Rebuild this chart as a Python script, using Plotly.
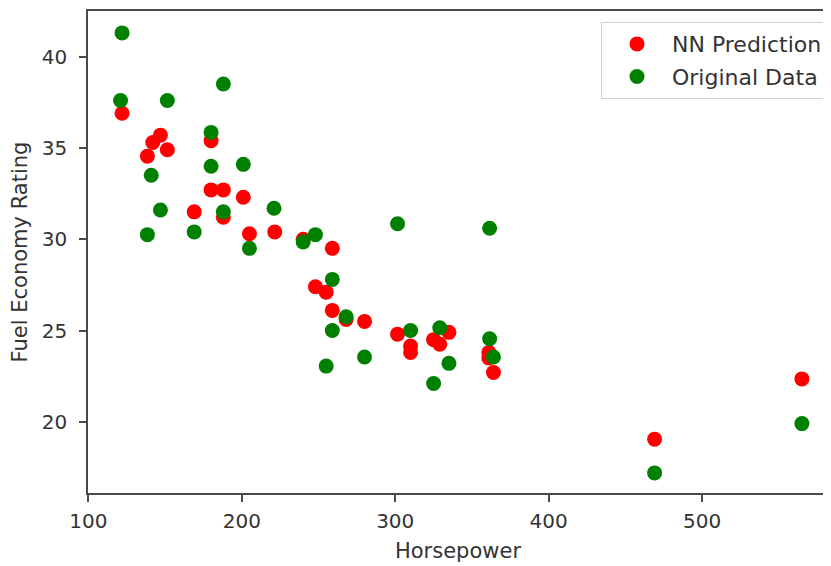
import plotly.graph_objects as go

# NN Prediction (red)
pred_hp = [122, 147, 142, 138.5, 151.5, 180, 180, 188, 201, 169, 188, 205, 221.5, 240, 259,
           248, 255, 259, 268, 280, 301.5, 310, 310, 325, 329, 335, 361, 361, 364, 469, 565]
pred_mpg = [36.9, 35.7, 35.3, 34.55, 34.9, 35.4, 32.7, 32.7, 32.3, 31.5, 31.2, 30.3, 30.4, 30.0, 29.5,
            27.4, 27.1, 26.1, 25.6, 25.5, 24.8, 24.15, 23.8, 24.5, 24.25, 24.9, 23.8, 23.5, 22.7, 19.05, 22.35]

# Original Data (green)
orig_hp = [122, 121, 151.5, 188, 180, 141, 180, 201, 147, 188, 221, 138.5, 169, 205, 240, 248,
           301.5, 361.5, 259, 268, 259, 255, 280, 310, 329, 335, 325, 361.5, 364, 469, 565]
orig_mpg = [41.3, 37.6, 37.6, 38.5, 35.85, 33.5, 34.0, 34.1, 31.6, 31.5, 31.7, 30.25, 30.4, 29.5, 29.85, 30.25,
            30.85, 30.6, 27.8, 25.75, 25.0, 23.05, 23.55, 25.0, 25.15, 23.2, 22.1, 24.55, 23.55, 17.2, 19.9]

x_ticks = [100, 200, 300, 400, 500]
y_ticks = [20, 25, 30, 35, 40]

FONT = "DejaVu Sans"
TXT = "#333"

fig = go.Figure()
fig.add_trace(go.Scatter(x=pred_hp, y=pred_mpg, mode="markers", name="NN Prediction",
                         legendgroup="pred",
                         marker=dict(color="#ff0000", size=15)))
fig.add_trace(go.Scatter(x=orig_hp, y=orig_mpg, mode="markers", name="Original Data",
                         legendgroup="orig",
                         marker=dict(color="#008000", size=15)))

axis_common = dict(showline=True, linecolor="#4a4a4a", linewidth=1.6, mirror=True,
                   ticks="outside", ticklen=7, tickcolor="#4a4a4a", tickwidth=1.5,
                   showgrid=False, zeroline=False,
                   tickfont=dict(family=FONT, size=20, color=TXT))

fig.update_xaxes(range=[99.8, 582], tickvals=x_ticks, ticklabelstandoff=2,
                 title=dict(text="Horsepower", font=dict(family=FONT, size=21, color=TXT), standoff=12),
                 **axis_common)
fig.update_yaxes(range=[16.1, 42.5], tickvals=y_ticks, ticklabelstandoff=8,
                 title=dict(text="Fuel Economy Rating", font=dict(family=FONT, size=21, color=TXT), standoff=12),
                 **axis_common)

fig.update_layout(
    width=823, height=558,
    margin=dict(l=80, r=2, t=1, b=73),
    plot_bgcolor="white", paper_bgcolor="white",
    legend=dict(x=1.0, y=0.977, xanchor="right", yanchor="top",
                bgcolor="rgba(255,255,255,0.8)", bordercolor="#d0d0d0", borderwidth=1,
                itemwidth=60, tracegroupgap=1,
                font=dict(family=FONT, size=22, color=TXT)),
)

fig.write_html("out.html")
